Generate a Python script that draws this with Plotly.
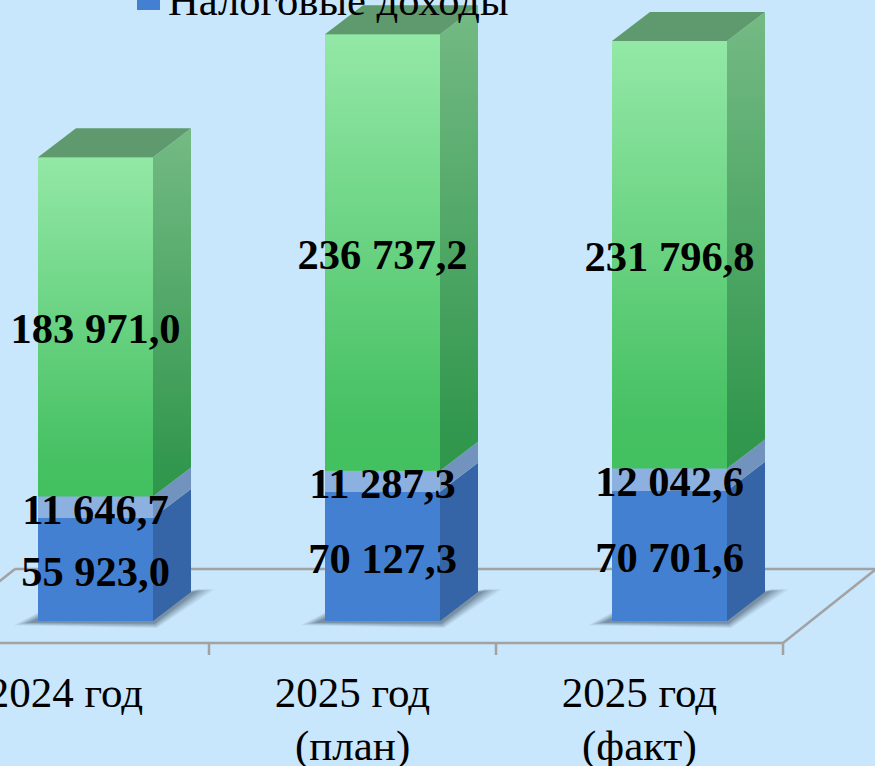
import plotly.graph_objects as go

categories = ["2024 год", "2025 год", "2025 год"]
category_notes = ["", "(план)", "(факт)"]
tax_income = [55923.0, 70127.3, 70701.6]
non_tax_income = [11646.7, 11287.3, 12042.6]
transfers = [183971.0, 236737.2, 231796.8]
labels_tax = ["55 923,0", "70 127,3", "70 701,6"]
labels_non_tax = ["11 646,7", "11 287,3", "12 042,6"]
labels_transfers = ["183 971,0", "236 737,2", "231 796,8"]
legend_name = "Налоговые доходы"

BG = "#C8E6FC"
FONT = "Liberation Serif"
K = 1000.0
PX_X, PX_Y = 287.0, 1.844 / K          # pixels per unit
H_PLOT = 655
Y_ZERO = 621
X0_PX = 65.5
BAR_W = 115 / PX_X
BAR_OFF = 30 / PX_X
DX, DY = 38 / PX_X, 29 / PX_Y
LBL_SHIFT = 6 / PX_Y
FLOOR_FRONT = -(643 - Y_ZERO) / PX_Y
FLOOR_BACK = (Y_ZERO - 569) / PX_Y
FLOOR_DX = 93 / PX_X

xs = [i + BAR_OFF for i in range(len(categories))]
fig = go.Figure()


def poly(px, py, color=None, grad=None):
    kw = dict(x=px + px[:1], y=py + py[:1], mode="lines", fill="toself",
              line=dict(width=0), showlegend=False, hoverinfo="skip")
    if grad:
        kw["fillgradient"] = dict(type="vertical", colorscale=grad)
    else:
        kw["fillcolor"] = color
    fig.add_trace(go.Scatter(**kw))


base2 = [a + b for a, b in zip(tax_income, non_tax_income)]
total = [a + b for a, b in zip(base2, transfers)]

fig.add_trace(go.Bar(x=xs, y=tax_income, width=BAR_W, marker=dict(color="#4480D2", line_width=0),
                     showlegend=False, hoverinfo="skip"))
fig.add_trace(go.Bar(x=xs, y=non_tax_income, base=tax_income, width=BAR_W,
                     marker=dict(color="#8CB0E0", line_width=0), showlegend=False, hoverinfo="skip"))
fig.add_trace(go.Bar(x=xs, y=transfers, base=base2, width=BAR_W,
                     marker=dict(color="#6AD080", line_width=0), showlegend=False, hoverinfo="skip"))

green_front = [[0, "#43C060"], [0.1, "#45C062"], [1, "#93E8A6"]]
green_side = [[0, "#2F964B"], [0.1, "#33984F"], [1, "#74BA84"]]

for x, t, b2, t_top in zip(xs, tax_income, base2, total):
    l, r = x - BAR_W / 2, x + BAR_W / 2
    poly([l, r, r, l], [b2, b2, t_top, t_top], grad=green_front)
    poly([r, r + DX, r + DX, r], [0, DY, t + DY, t], color="#3565A6")
    poly([r, r + DX, r + DX, r], [t, t + DY, b2 + DY, b2], color="#7293BE")
    poly([r, r + DX, r + DX, r], [b2, b2 + DY, t_top + DY, t_top], grad=green_side)
    poly([l, r, r + DX, l + DX], [t_top, t_top, t_top + DY, t_top + DY], color="#5F9A6E")

label_font = dict(family=FONT, size=42.5, color="#000000")
for vals, bases, texts in [(tax_income, [0, 0, 0], labels_tax),
                           (non_tax_income, tax_income, labels_non_tax),
                           (transfers, base2, labels_transfers)]:
    fig.add_trace(go.Scatter(x=xs, y=[b + v / 2 - LBL_SHIFT for b, v in zip(bases, vals)],
                             mode="text", text=["<b>%s</b>" % s for s in texts],
                             textposition="middle center", textfont=label_font,
                             showlegend=False, hoverinfo="skip", cliponaxis=False))

shapes = []
line = dict(color="#A2A2A2", width=2.5)
n = len(categories)
for a, b, c, d in [(-0.5, FLOOR_FRONT, n - 0.5, FLOOR_FRONT),
                   (-0.5, FLOOR_FRONT, -0.5 + FLOOR_DX, FLOOR_BACK),
                   (n - 0.5, FLOOR_FRONT, n - 0.5 + FLOOR_DX, FLOOR_BACK),
                   (-0.5 + FLOOR_DX, FLOOR_BACK, n - 0.5 + FLOOR_DX, FLOOR_BACK)]:
    shapes.append(dict(type="line", x0=a, y0=b, x1=c, y1=d, line=line, layer="below"))
for i in range(n):
    shapes.append(dict(type="line", x0=i + 0.5, x1=i + 0.5, y0=FLOOR_FRONT, y1=-(655 - Y_ZERO) / PX_Y,
                       line=line, layer="below"))
# soft contact shadows behind each bar
for x in xs:
    r = x + BAR_W / 2
    l = x - BAR_W / 2
    for k, alpha in [(1.0, 0.08), (0.85, 0.10), (0.7, 0.12), (0.55, 0.15), (0.4, 0.18)]:
        sx = 24 * k / PX_X
        sy = 7 * k / PX_Y
        path = "M %f,%f L %f,%f L %f,%f L %f,%f Z" % (
            l - sx, -sy * 0.6, r + 4 * k / PX_X, -sy, r + DX + sx, DY + 3 / PX_Y, l, sy * 1.2)
        shapes.append(dict(type="path", path=path, fillcolor="rgba(40,60,75,%.2f)" % alpha,
                           line=dict(width=0), layer="below"))

# legend key, cut by the top edge of the picture as in the source
shapes.append(dict(type="rect", xref="paper", yref="paper", x0=137 / 875, x1=160 / 875,
                   y0=1 - 10 / H_PLOT, y1=1, fillcolor="#4480D2", line=dict(width=0), layer="above"))

annotations = [dict(text=legend_name, xref="paper", yref="paper", x=167 / 875, xanchor="left",
                    y=1 - 14 / H_PLOT, yanchor="bottom", yshift=-11, showarrow=False,
                    font=dict(family=FONT, size=42.6, color="#000000"), borderpad=0)]
for i, note in enumerate(category_notes):
    if note:
        annotations.append(dict(text=note, x=i, xref="x", yref="paper", y=0, yanchor="top", yshift=-66,
                                showarrow=False, font=dict(family=FONT, size=43, color="#000000"),
                                borderpad=0))

fig.update_layout(
    width=875, height=766, template=None, barmode="overlay", bargap=0,
    paper_bgcolor=BG, plot_bgcolor=BG, shapes=shapes, annotations=annotations,
    margin=dict(l=0, r=0, t=0, b=766 - H_PLOT, pad=0, autoexpand=False),
    showlegend=False,
    font=dict(family=FONT, color="#000000"),
    xaxis=dict(range=[-X0_PX / PX_X, (875 - X0_PX) / PX_X], tickvals=list(range(n)), ticktext=categories,
               showgrid=False, zeroline=False, showline=False, ticks="", automargin=False,
               ticklabeloverflow="allow",
               tickfont=dict(family=FONT, size=43, color="#000000"), ticklabelstandoff=8),
    yaxis=dict(range=[-(H_PLOT - Y_ZERO) / PX_Y, Y_ZERO / PX_Y], visible=False, automargin=False),
)
fig.write_html("out.html", config={"displayModeBar": False}, post_script=(
    "document.documentElement.style.overflow='hidden';"
    "document.body.style.margin='0';document.body.style.background='%s';" % BG))
